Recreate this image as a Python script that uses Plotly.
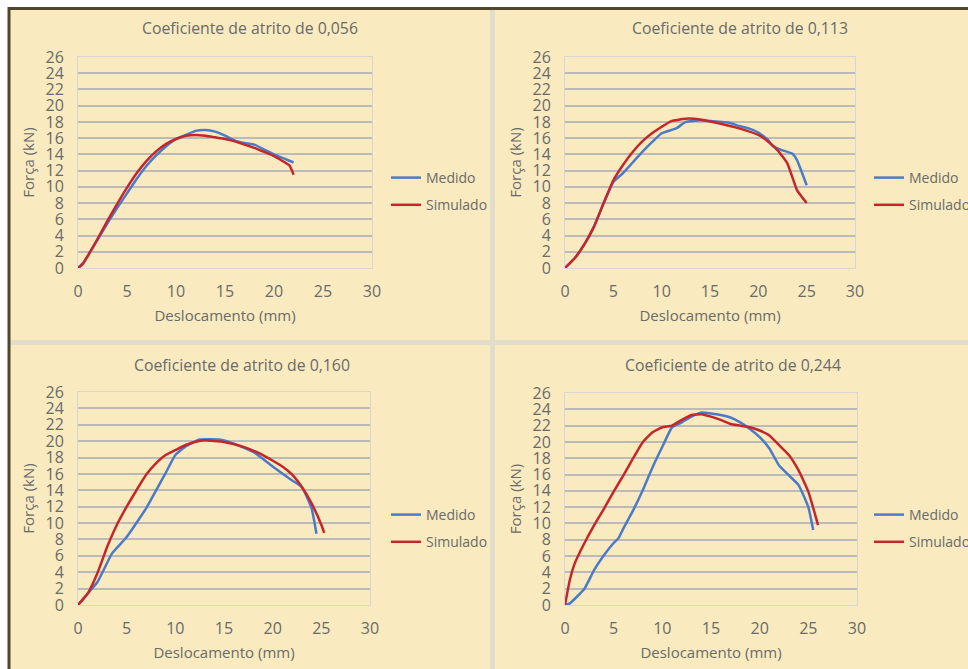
import plotly.graph_objects as go

W, H = 968, 669

# ---------------- data ----------------
titles = ["Coeficiente de atrito de 0,056", "Coeficiente de atrito de 0,113",
          "Coeficiente de atrito de 0,160", "Coeficiente de atrito de 0,244"]
series_names = ["Medido", "Simulado"]
x_title = "Deslocamento (mm)"
y_title = "Força (kN)"
x_ticks = [0, 5, 10, 15, 20, 25, 30]
y_ticks = list(range(0, 27, 2))

# 0,056
med1_x = [0, 0.5, 1, 2, 3, 4, 5, 6, 7, 8, 9, 10, 11, 12, 13, 14, 15, 16, 17, 18, 19, 20, 21, 22]
med1_y = [0, 0.6, 1.5, 3.5, 5.5, 7.4, 9.2, 11.0, 12.6, 13.9, 15.0, 15.9, 16.4, 16.9, 17.0, 16.8,
          16.3, 15.7, 15.4, 15.2, 14.6, 14.0, 13.5, 13.0]
sim1_x = [0, 0.5, 1, 2, 3, 4, 5, 6, 7, 8, 9, 10, 11, 12, 13, 14, 15, 16, 17, 18, 19, 20, 21, 21.6, 22]
sim1_y = [0, 0.5, 1.5, 3.6, 5.8, 7.9, 9.9, 11.7, 13.2, 14.4, 15.3, 15.9, 16.3, 16.4, 16.3, 16.1,
          15.9, 15.6, 15.2, 14.8, 14.3, 13.8, 13.1, 12.6, 11.5]

# 0,113
med2_x = [0, 1, 2, 3, 4, 5, 6, 7, 8, 9, 10, 11.5, 12.5, 14, 15, 17, 18, 19, 20, 21, 21.5, 22.5, 23.5, 24, 25]
med2_y = [0, 1.2, 2.9, 5.1, 8.0, 10.6, 11.7, 13.0, 14.3, 15.5, 16.6, 17.2, 18.0, 18.2, 18.1, 17.9,
          17.5, 17.2, 16.7, 15.8, 15.0, 14.5, 14.1, 13.3, 10.2]
sim2_x = [0, 1, 2, 3, 4, 5, 6, 7, 8, 9, 10, 11, 12.5, 14, 16, 18, 20, 21, 22, 23, 24, 25]
sim2_y = [0, 1.2, 2.9, 5.1, 8.0, 10.8, 12.7, 14.3, 15.6, 16.6, 17.4, 18.1, 18.4, 18.3, 17.8, 17.2,
          16.4, 15.6, 14.5, 12.9, 9.6, 8.0]

# 0,160
med3_x = [0, 1, 2, 3.5, 5, 7, 9, 10, 11, 12.5, 14.5, 16, 18, 20, 22, 23, 24, 24.5]
med3_y = [0, 1.4, 2.8, 6.3, 8.3, 11.8, 16.1, 18.3, 19.3, 20.2, 20.2, 19.7, 18.7, 16.9, 15.2, 14.4, 11.8, 8.7]
sim3_x = [0, 1, 2, 3, 4, 5, 6, 7, 8, 9, 10, 11, 12, 13, 15, 17, 19, 21, 22, 23, 24, 25, 25.3]
sim3_y = [0, 1.4, 3.9, 7.1, 9.8, 12.0, 14.0, 15.9, 17.3, 18.3, 18.9, 19.5, 19.9, 20.1, 19.9, 19.3,
          18.3, 16.9, 15.9, 14.4, 12.4, 9.8, 8.8]

# 0,244
med4_x = [0, 0.5, 2, 3, 4, 5, 5.5, 6, 7, 8, 9, 10, 11, 12, 13, 14, 16, 17, 18, 19, 20, 21, 22, 23, 24, 25, 25.5]
med4_y = [0, 0.2, 2.0, 4.3, 6.1, 7.6, 8.2, 9.4, 11.6, 14.1, 16.9, 19.4, 21.8, 22.4, 23.1, 23.6, 23.3,
          23.0, 22.4, 21.6, 20.6, 19.2, 17.1, 15.9, 14.7, 12.0, 9.2]
sim4_x = [0, 0.5, 1, 2, 3, 4, 5, 6, 7, 8, 9, 10, 11, 12, 13, 14, 15, 16, 17, 18, 19, 20, 21, 22,
          23, 24, 25, 26]
sim4_y = [0, 3.1, 5.1, 7.6, 9.8, 11.8, 13.9, 15.9, 18.0, 20.0, 21.2, 21.8, 22.0, 22.7, 23.3, 23.4,
          23.1, 22.7, 22.2, 22.0, 21.8, 21.4, 20.8, 19.6, 18.4, 16.5, 13.9, 9.8]

medido = [(med1_x, med1_y), (med2_x, med2_y), (med3_x, med3_y), (med4_x, med4_y)]
simulado = [(sim1_x, sim1_y), (sim2_x, sim2_y), (sim3_x, sim3_y), (sim4_x, sim4_y)]

# ---------------- styling ----------------
BLUE = "#4a7bc8"
RED = "#c4262c"
BEIGE = "#f9ebbf"
TXT = "#6a6a6a"
GRID = "#bababa"
FONT = "Open Sans"


def px_x(p):
    return p / W


def px_y(p):
    return 1 - p / H


# plot-area pixel boxes (left, right, top, bottom)
boxes = [(78, 372, 57, 268), (565, 855, 57, 268), (78, 370, 392, 605), (565, 857, 393, 605)]
# panel backgrounds
panels = [(9, 490, 9, 340), (495, 968, 9, 340), (9, 490, 345, 669), (495, 968, 345, 669)]
title_pos = [(250, 28), (740, 28), (242, 365), (733, 365)]
legend_pos = [(386, 162), (869, 162), (386, 499), (869, 499)]

fig = go.Figure()
layout = dict(
    width=W, height=H, margin=dict(l=0, r=0, t=0, b=0, autoexpand=False),
    paper_bgcolor="white", plot_bgcolor="white",
    font=dict(family=FONT, color=TXT, size=14),
    shapes=[], annotations=[],
)

for i in range(4):
    n = "" if i == 0 else str(i + 1)
    leg = "legend" if i == 0 else f"legend{i + 1}"
    xa, ya = f"x{n}", f"y{n}"
    (mx, my), (sx, sy) = medido[i], simulado[i]
    fig.add_trace(go.Scatter(x=mx, y=my, mode="lines", name=series_names[0],
                             line=dict(color=BLUE, width=2.5, shape="spline", smoothing=0.4),
                             xaxis=xa, yaxis=ya, legend=leg, legendgroup=f"m{i}"))
    fig.add_trace(go.Scatter(x=sx, y=sy, mode="lines", name=series_names[1],
                             line=dict(color=RED, width=2.5, shape="spline", smoothing=0.4),
                             xaxis=xa, yaxis=ya, legend=leg, legendgroup=f"s{i}"))
    l, r, t, b = boxes[i]
    layout[f"xaxis{n}"] = dict(
        domain=[px_x(l), px_x(r)], anchor=ya, range=[0, 30], tickvals=x_ticks,
        showgrid=False, zeroline=False, showline=True, linecolor="#d6d6d6", linewidth=1,
        mirror=True, ticks="outside", ticklen=9, tickcolor="rgba(0,0,0,0)",
        tickfont=dict(size=16, color=TXT), automargin=False,
        title=dict(text=x_title, font=dict(size=15, color=TXT), standoff=9),
    )
    layout[f"yaxis{n}"] = dict(
        domain=[px_y(b), px_y(t)], anchor=xa, range=[0, 26], tickvals=y_ticks,
        showgrid=True, gridcolor=GRID, gridwidth=2, zeroline=False,
        showline=True, linecolor="#d6d6d6", linewidth=1, mirror=True,
        ticks="outside", ticklen=10, tickcolor="rgba(0,0,0,0)",
        tickfont=dict(size=16, color=TXT), automargin=False,
        title=dict(text=y_title, font=dict(size=15, color=TXT), standoff=7),
    )
    lx, ly = legend_pos[i]
    layout[leg] = dict(
        x=px_x(lx), y=px_y(ly), xanchor="left", yanchor="top",
        bgcolor="rgba(0,0,0,0)", font=dict(size=14, color=TXT),
        tracegroupgap=6, itemwidth=30,
    )
    pl, pr, pt, pb = panels[i]
    layout["shapes"].append(dict(type="rect", xref="paper", yref="paper",
                                 x0=px_x(pl), x1=px_x(pr), y0=px_y(pb), y1=px_y(pt),
                                 fillcolor=BEIGE, line=dict(width=0), layer="below"))
    tx, ty = title_pos[i]
    layout["annotations"].append(dict(text=titles[i], xref="paper", yref="paper",
                                      x=px_x(tx), y=px_y(ty), xanchor="center", yanchor="middle",
                                      showarrow=False, font=dict(size=15.8, color=TXT)))

# separators and dark frame lines
layout["shapes"] += [
    dict(type="rect", xref="paper", yref="paper", x0=px_x(490), x1=px_x(495), y0=0, y1=px_y(9),
         fillcolor="#e2dccb", line=dict(width=0), layer="below"),
    dict(type="rect", xref="paper", yref="paper", x0=px_x(9), x1=1, y0=px_y(345), y1=px_y(340),
         fillcolor="#e2dccb", line=dict(width=0), layer="below"),
    dict(type="line", xref="paper", yref="paper", x0=px_x(8), x1=1, y0=px_y(8.5), y1=px_y(8.5),
         line=dict(color="#51462a", width=3)),
    dict(type="line", xref="paper", yref="paper", x0=px_x(9), x1=px_x(9), y0=0, y1=px_y(7),
         line=dict(color="#51462a", width=3)),
]

fig.update_layout(**layout)
fig.write_html(
    "out.html",
    config={"displayModeBar": False},
    post_script=("document.body.style.margin='0';"
                 "document.body.style.overflow='hidden';"
                 "document.documentElement.style.overflow='hidden';"),
)
